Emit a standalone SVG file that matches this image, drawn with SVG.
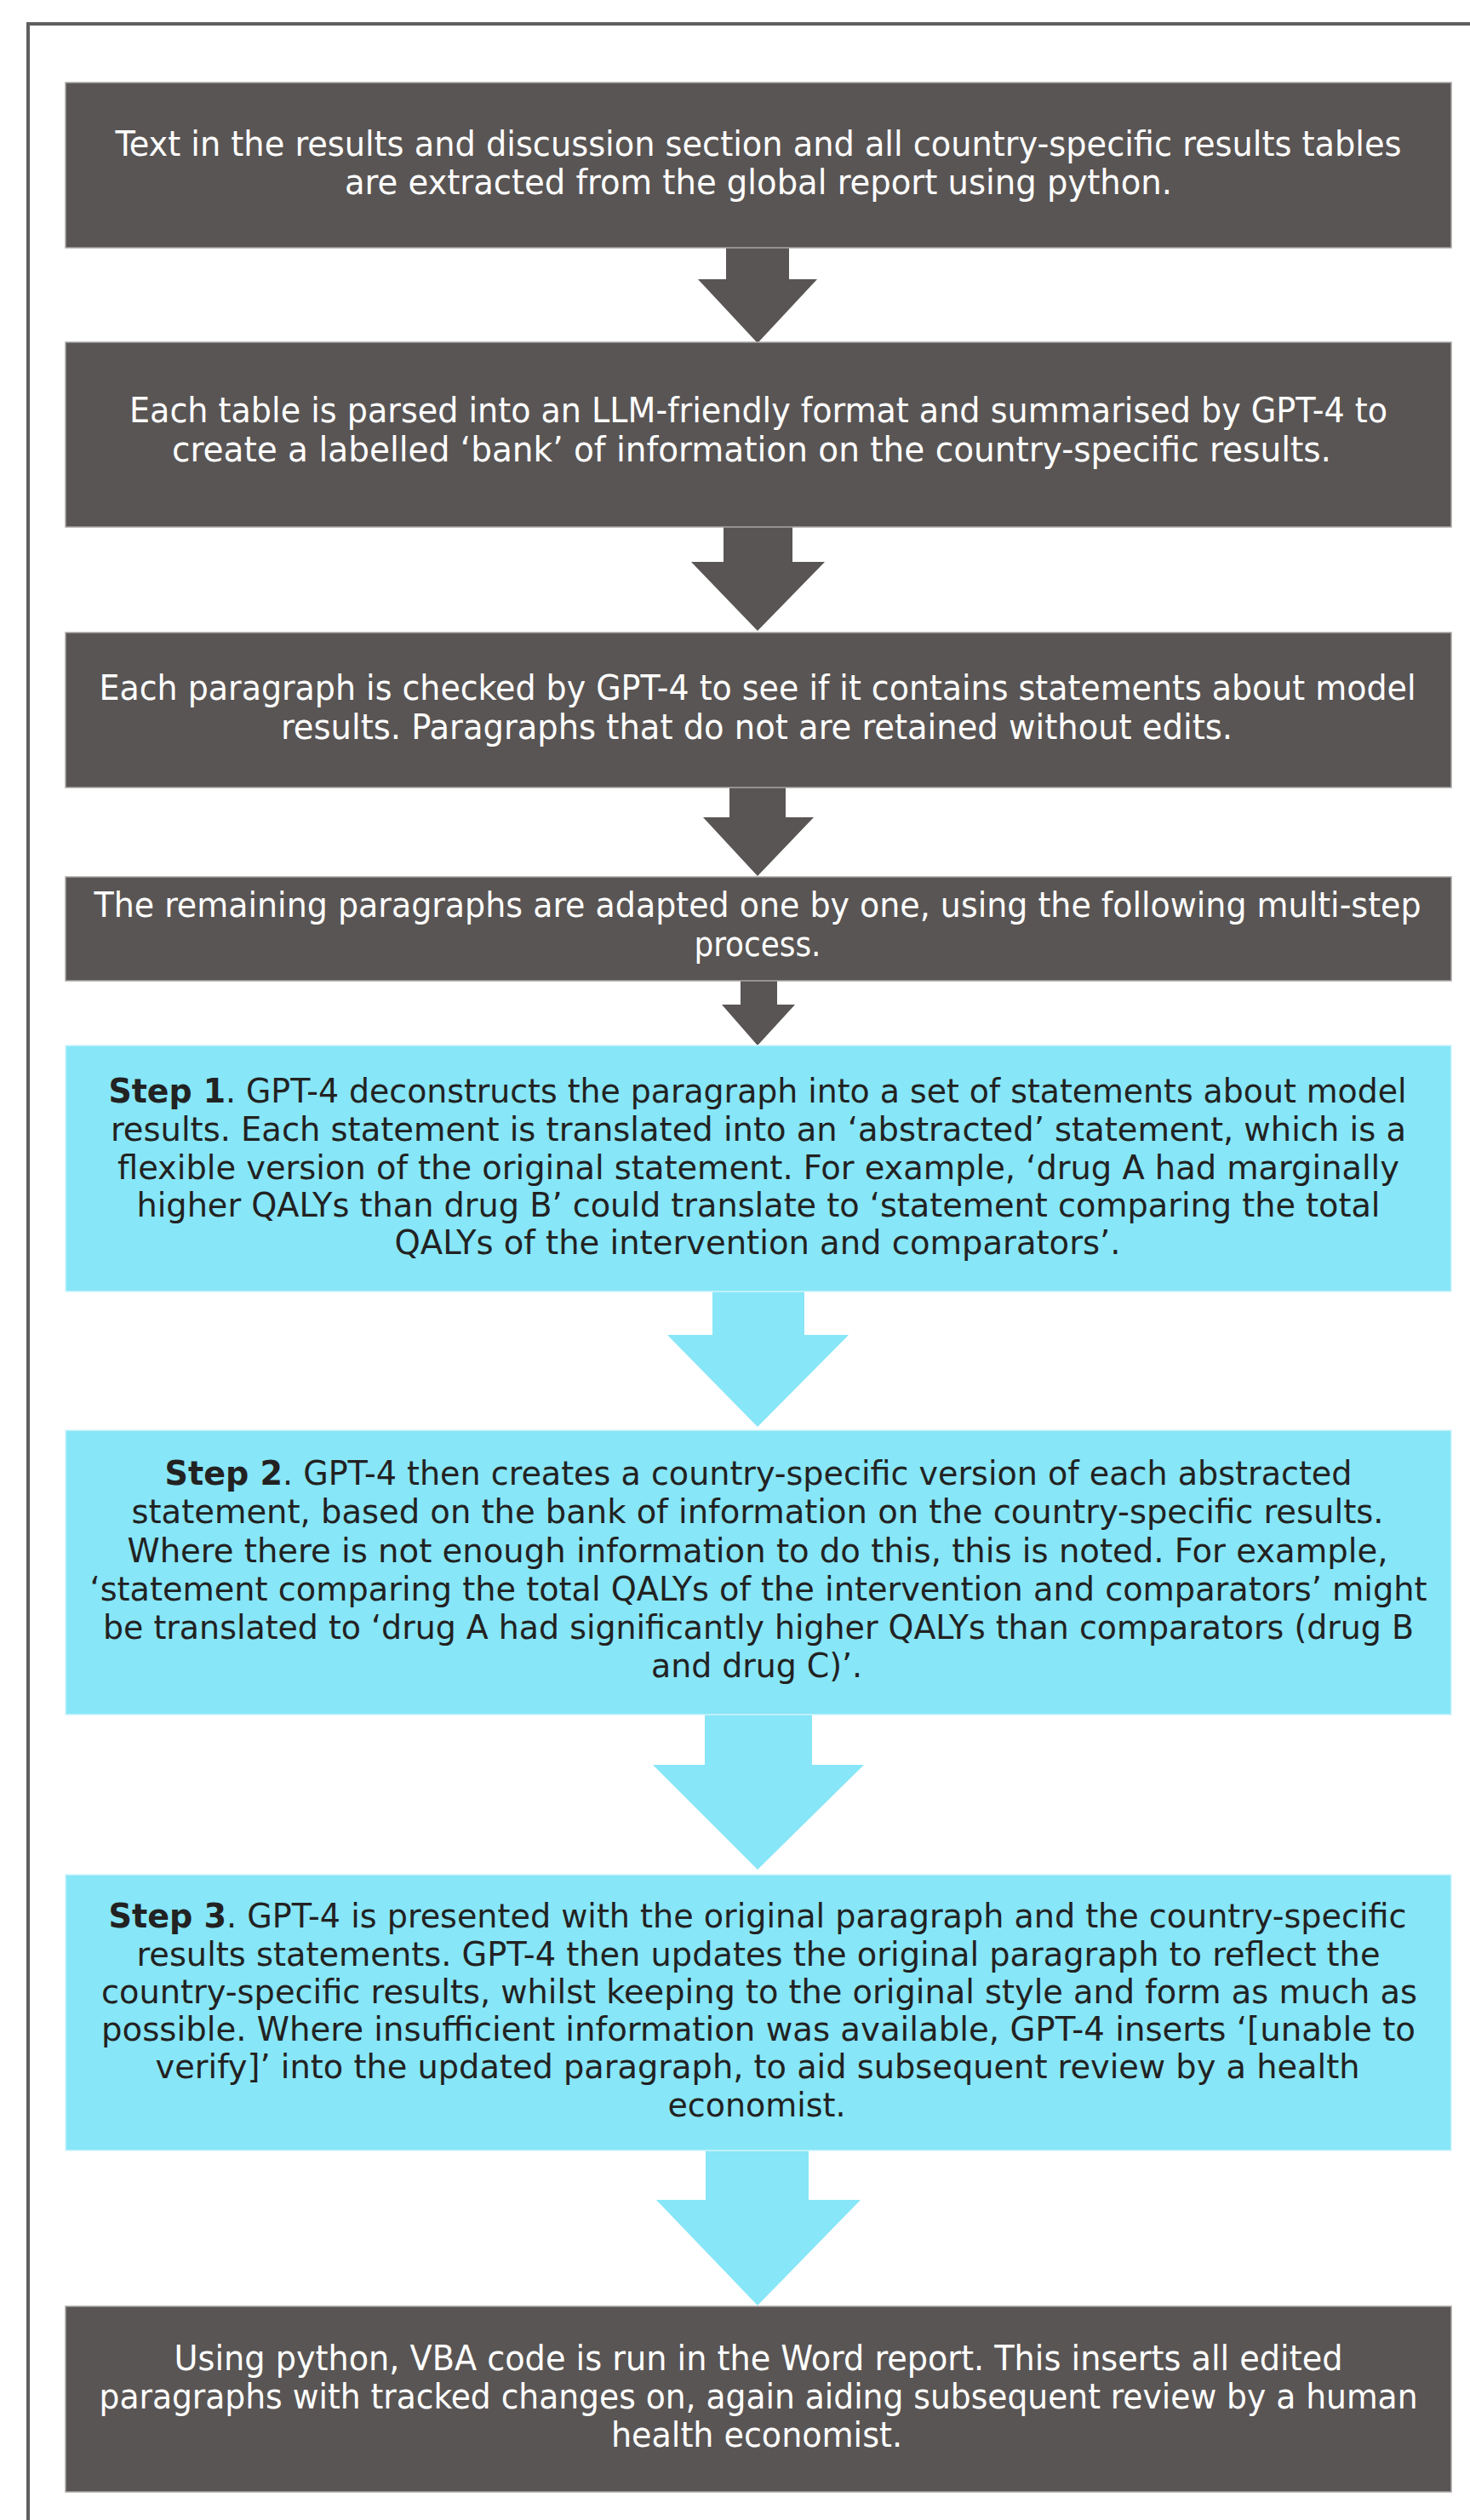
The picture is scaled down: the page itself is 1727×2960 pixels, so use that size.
<svg xmlns="http://www.w3.org/2000/svg" width="1727" height="2960" viewBox="0 0 1727 2960">
<style>
.dark{fill:#595554;stroke:#a8a6a5;stroke-width:1.5}
.cyan{fill:#87E6F7;stroke:#d2f5fc;stroke-width:1.5}
.ad{fill:#595554}
.ac{fill:#87E6F7}
text{font-family:"DejaVu Sans Condensed","DejaVu Sans",sans-serif;text-anchor:middle}
.tw{fill:#ffffff;font-size:40px}
.tk{fill:#222222;font-size:39px}
.b{font-weight:bold}
</style>
<rect x="33" y="28" width="1760" height="3000" fill="none" stroke="#5f5f5f" stroke-width="4"/>
<g id="connectors">
<polygon class="ad" points="853,291 927,291 927,328 960,328 890,403 820,328 853,328"/>
<polygon class="ad" points="850,619 931,619 931,660 969,660 890,741 812,660 850,660"/>
<polygon class="ad" points="857,925 923,925 923,960 956,960 890,1029 826,960 857,960"/>
<polygon class="ad" points="870,1152 913,1152 913,1180 934,1180 890,1228 848,1180 870,1180"/>
<polygon class="ac" points="837,1517 945,1517 945,1568 997,1568 890,1676 784,1568 837,1568"/>
<polygon class="ac" points="828,2014 954,2014 954,2073 1015,2073 890,2196 767,2073 828,2073"/>
<polygon class="ac" points="829,2526 950,2526 950,2584 1011,2584 890,2708 771,2584 829,2584"/>
</g>
<g id="node1">
<rect class="dark" x="77" y="97" width="1628" height="194"/>
<text class="tw" x="891" y="183" textLength="1511" lengthAdjust="spacingAndGlyphs">Text in the results and discussion section and all country-specific results tables</text>
<text class="tw" x="891" y="228" textLength="972" lengthAdjust="spacingAndGlyphs">are extracted from the global report using python.</text>
</g>
<g id="node2">
<rect class="dark" x="77" y="402" width="1628" height="217"/>
<text class="tw" x="891" y="496" textLength="1478" lengthAdjust="spacingAndGlyphs">Each table is parsed into an LLM-friendly format and summarised by GPT-4 to</text>
<text class="tw" x="883" y="542" textLength="1362" lengthAdjust="spacingAndGlyphs">create a labelled ‘bank’ of information on the country-specific results.</text>
</g>
<g id="node3">
<rect class="dark" x="77" y="743" width="1628" height="182"/>
<text class="tw" x="890" y="822" textLength="1547" lengthAdjust="spacingAndGlyphs">Each paragraph is checked by GPT-4 to see if it contains statements about model</text>
<text class="tw" x="889" y="868" textLength="1118" lengthAdjust="spacingAndGlyphs">results. Paragraphs that do not are retained without edits.</text>
</g>
<g id="node4">
<rect class="dark" x="77" y="1030" width="1628" height="122"/>
<text class="tw" x="890" y="1077" textLength="1559" lengthAdjust="spacingAndGlyphs">The remaining paragraphs are adapted one by one, using the following multi-step</text>
<text class="tw" x="890" y="1123" textLength="149" lengthAdjust="spacingAndGlyphs">process.</text>
</g>
<g id="node5">
<rect class="cyan" x="77" y="1228" width="1628" height="289"/>
<text class="tk" x="890" y="1295" textLength="1525" lengthAdjust="spacingAndGlyphs"><tspan class="b">Step 1</tspan>. GPT-4 deconstructs the paragraph into a set of statements about model</text>
<text class="tk" x="891" y="1340" textLength="1522" lengthAdjust="spacingAndGlyphs">results. Each statement is translated into an ‘abstracted’ statement, which is a</text>
<text class="tk" x="891" y="1385" textLength="1506" lengthAdjust="spacingAndGlyphs">flexible version of the original statement. For example, ‘drug A had marginally</text>
<text class="tk" x="891" y="1429" textLength="1461" lengthAdjust="spacingAndGlyphs">higher QALYs than drug B’ could translate to ‘statement comparing the total</text>
<text class="tk" x="890" y="1473" textLength="853" lengthAdjust="spacingAndGlyphs">QALYs of the intervention and comparators’.</text>
</g>
<g id="node6">
<rect class="cyan" x="77" y="1680" width="1628" height="334"/>
<text class="tk" x="891" y="1744" textLength="1395" lengthAdjust="spacingAndGlyphs"><tspan class="b">Step 2</tspan>. GPT-4 then creates a country-specific version of each abstracted</text>
<text class="tk" x="890" y="1789" textLength="1471" lengthAdjust="spacingAndGlyphs">statement, based on the bank of information on the country-specific results.</text>
<text class="tk" x="890" y="1835" textLength="1481" lengthAdjust="spacingAndGlyphs">Where there is not enough information to do this, this is noted. For example,</text>
<text class="tk" x="891" y="1880" textLength="1571" lengthAdjust="spacingAndGlyphs">‘statement comparing the total QALYs of the intervention and comparators’ might</text>
<text class="tk" x="891" y="1925" textLength="1540" lengthAdjust="spacingAndGlyphs">be translated to ‘drug A had significantly higher QALYs than comparators (drug B</text>
<text class="tk" x="889" y="1970" textLength="248" lengthAdjust="spacingAndGlyphs">and drug C)’.</text>
</g>
<g id="node7">
<rect class="cyan" x="77" y="2202" width="1628" height="324"/>
<text class="tk" x="890" y="2264" textLength="1525" lengthAdjust="spacingAndGlyphs"><tspan class="b">Step 3</tspan>. GPT-4 is presented with the original paragraph and the country-specific</text>
<text class="tk" x="891" y="2309" textLength="1461" lengthAdjust="spacingAndGlyphs">results statements. GPT-4 then updates the original paragraph to reflect the</text>
<text class="tk" x="892" y="2353" textLength="1546" lengthAdjust="spacingAndGlyphs">country-specific results, whilst keeping to the original style and form as much as</text>
<text class="tk" x="891" y="2397" textLength="1544" lengthAdjust="spacingAndGlyphs">possible. Where insufficient information was available, GPT-4 inserts ‘[unable to</text>
<text class="tk" x="890" y="2441" textLength="1415" lengthAdjust="spacingAndGlyphs">verify]’ into the updated paragraph, to aid subsequent review by a health</text>
<text class="tk" x="889" y="2486" textLength="209" lengthAdjust="spacingAndGlyphs">economist.</text>
</g>
<g id="node8">
<rect class="dark" x="77" y="2709" width="1628" height="218"/>
<text class="tw" x="891" y="2784" textLength="1373" lengthAdjust="spacingAndGlyphs">Using python, VBA code is run in the Word report. This inserts all edited</text>
<text class="tw" x="891" y="2829" textLength="1549" lengthAdjust="spacingAndGlyphs">paragraphs with tracked changes on, again aiding subsequent review by a human</text>
<text class="tw" x="889" y="2874" textLength="342" lengthAdjust="spacingAndGlyphs">health economist.</text>
</g>
</svg>
